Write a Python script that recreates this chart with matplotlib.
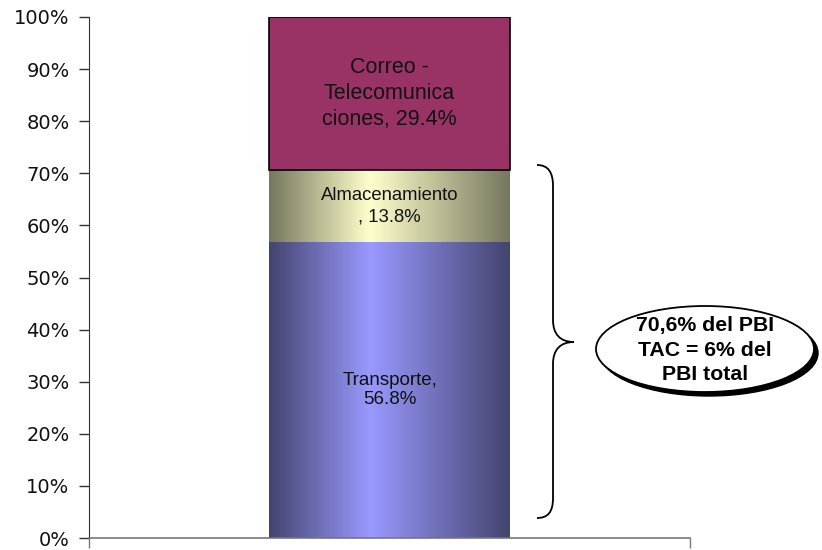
import numpy as np
import matplotlib
matplotlib.use("Agg")
import matplotlib.pyplot as plt
from matplotlib.patches import Ellipse, PathPatch
from matplotlib.path import Path
from matplotlib.colors import LinearSegmentedColormap

# Shares of the sector (bottom to top)
segments = ["Transporte", "Almacenamiento", "Correo - Telecomunicaciones"]
shares = [56.8, 13.8, 29.4]
seg_labels = ["Transporte,\n{:.1f}%", "Almacenamiento\n, {:.1f}%", "Correo -\nTelecomunica\nciones, {:.1f}%"]
yticks = [0, 10, 20, 30, 40, 50, 60, 70, 80, 90, 100]
note = "70,6% del PBI\nTAC = 6% del\nPBI total"

# dark - light - dark gradients across the bar, None = flat fill
grads = [
    ("#44446f", "#9999ff"),
    ("#77775e", "#ffffcc"),
    None,
]
flat_color = "#993366"

fig = plt.figure(figsize=(8.22, 5.5), dpi=100)
ax = fig.add_axes([89 / 822, 12 / 550, 601 / 822, 521 / 550])

x0, width = 0.0, 1.0
bottom = 0.0
for i, (v, g) in enumerate(zip(shares, grads)):
    if g is None:
        ax.bar(x0, v, width, bottom=bottom, color=flat_color, edgecolor="black", linewidth=1.2, zorder=2)
    else:
        bar = ax.bar(x0, v, width, bottom=bottom, color="none", linewidth=0, zorder=2)[0]
        cmap = LinearSegmentedColormap.from_list(
            "g%d" % i, [(0.0, g[0]), (0.42, g[1]), (1.0, g[0])])
        grad = np.linspace(0, 1, 256).reshape(1, -1)
        im = ax.imshow(grad, cmap=cmap, aspect="auto", interpolation="bilinear",
                       extent=(x0 - width / 2, x0 + width / 2, bottom, bottom + v), zorder=1)
        im.set_clip_path(bar)
    ls = 1.3 if i == 2 else (1.35 if i == 1 else 1.2)
    fs = 15.5 if i == 2 else (13.3 if i == 1 else 13.5)
    ax.text(x0, bottom + v / 2, seg_labels[i].format(v), ha="center", va="center",
            fontsize=fs, family="Liberation Sans", color="#111111", linespacing=ls, zorder=3)
    bottom += v

ax.set_xlim(-1.25, 1.25)
ax.set_ylim(0, 100)
ax.set_yticks(yticks)
ax.set_yticklabels([f"{t}%" for t in yticks], fontsize=14, color="#111111")
ax.set_xticks([-1.25, 1.25])
ax.set_xticklabels([])
ax.tick_params(axis="y", length=7, width=1, color="#333333", pad=7)
ax.tick_params(axis="x", length=7, width=1, color="#777777")
ax.spines["top"].set_visible(False)
ax.spines["right"].set_visible(False)
ax.spines["left"].set_color("#333333")
ax.spines["bottom"].set_color("#777777")
ax.spines["bottom"].set_linewidth(1.2)

# annotation layer in pixel coordinates
ov = fig.add_axes([0, 0, 1, 1], facecolor="none")
ov.set_xlim(0, 822)
ov.set_ylim(550, 0)
ov.axis("off")

verts = [
    (537, 165), (548, 165), (553, 172), (553, 186),
    (553, 320),
    (553, 334), (560, 342), (574, 342),
    (560, 342), (553, 350), (553, 364),
    (553, 498),
    (553, 512), (548, 518), (537, 518),
]
codes = [Path.MOVETO, Path.CURVE4, Path.CURVE4, Path.CURVE4,
         Path.LINETO,
         Path.CURVE4, Path.CURVE4, Path.CURVE4,
         Path.CURVE4, Path.CURVE4, Path.CURVE4,
         Path.LINETO,
         Path.CURVE4, Path.CURVE4, Path.CURVE4]
ov.add_patch(PathPatch(Path(verts, codes), facecolor="none", edgecolor="black", lw=1.3))

cx, cy, ew, eh = 705, 349, 218, 86
ov.add_patch(Ellipse((cx + 4, cy + 4), ew, eh, facecolor="black", edgecolor="black", lw=1))
ov.add_patch(Ellipse((cx, cy), ew, eh, facecolor="white", edgecolor="black", lw=1.3))
ov.text(cx, cy + 1, note, ha="center", va="center", fontsize=15.3, fontweight="bold",
        family="Liberation Sans", linespacing=1.4)

fig.savefig("out.png", dpi=100)
